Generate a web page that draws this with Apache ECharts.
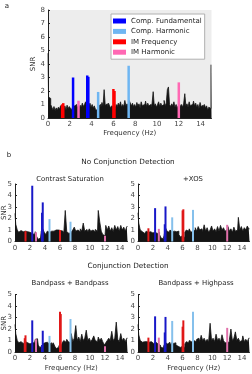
<!DOCTYPE html>
<html>
<head>
<meta charset="utf-8">
<script src="https://cdn.jsdelivr.net/npm/echarts@6/dist/echarts.min.js"></script>
<style>
  html, body { margin: 0; padding: 0; background: #ffffff; }
  #main { width: 252px; height: 374px; }
</style>
</head>
<body>
<div id="main"></div>
<script>
// spectrum of panel a, one value every 0.1 Hz from 0 to 15 Hz
var snrA = [
  4.8, 1.55, 1.45, 1.0, 0.8, 0.6, 0.85, 0.55, 0.75, 0.6,
  0.8, 0.65, 0.9, 1.0, 0.9, 0.7, 0.9, 0.6, 0.95, 0.7,
  0.85, 0.9, 0.6, 0.8, 0.75, 0.9, 1.0, 0.8, 0.9, 0.7,
  0.95, 0.8, 1.1, 0.85, 1.0, 1.2, 1.05, 1.0, 0.9, 1.1,
  0.8, 1.0, 0.75, 0.9, 0.65, 0.55, 0.7, 0.9, 1.0, 0.8,
  1.15, 0.9, 2.1, 0.95, 1.05, 0.8, 1.1, 0.9, 0.75, 0.9,
  0.8, 0.8, 0.6, 1.0, 0.85, 1.1, 0.9, 1.2, 0.8, 1.0,
  0.85, 1.3, 0.9, 1.05, 0.9, 1.3, 1.25, 0.9, 1.1, 0.85,
  1.0, 0.8, 1.15, 0.9, 1.05, 0.75, 1.2, 0.9, 1.0, 0.8,
  1.25, 0.85, 1.1, 0.9, 1.0, 0.8, 1.1, 1.95, 0.9, 1.05,
  0.8, 1.0, 1.2, 0.85, 1.1, 0.9, 1.0, 1.3, 0.9, 1.1,
  2.1, 2.3, 1.0, 0.85, 1.05, 0.9, 1.2, 0.8, 1.0, 0.75,
  0.9, 1.1, 0.85, 1.0, 0.8, 1.1, 1.8, 0.9, 1.05, 0.8,
  1.2, 0.9, 1.0, 0.85, 1.25, 0.9, 1.1, 0.8, 1.0, 0.7,
  1.15, 0.85, 0.95, 0.7, 1.0, 0.75, 0.9, 0.6, 0.8, 0.7,
  3.95
];
var fundA = [[2.3, 3.0], [3.6, 3.15], [3.7, 3.05]];
var harmA = [[4.6, 1.93], [7.4, 3.87]];
var imfA = [[1.3, 1.0], [1.4, 1.1], [6.0, 2.15], [6.1, 2.0]];
var imhA = [[2.8, 1.28], [12.0, 2.64]];

// panels b, one value every 0.2 Hz from 0 to 15 Hz
var snrB1 = [
  2.45, 1.5, 1.0, 0.8, 0.95, 0.85, 0.95, 0.9, 0.85, 0.95,
  0.8, 0.7, 0.75, 0.6, 0.85, 0.4, 0.2, 0.3, 0.9, 1.1,
  0.8, 0.6, 0.9, 0.8, 0.9, 0.85, 0.9, 1.0, 1.05, 1.0,
  0.95, 0.8, 0.9, 0.7, 2.7, 0.85, 0.7, 0.8, 0.9, 1.0,
  1.25, 0.9, 1.0, 0.85, 1.1, 0.9, 1.6, 0.9, 1.05, 0.8,
  1.1, 0.9, 1.0, 0.85, 1.05, 0.9, 2.7, 1.7, 0.9, 0.6,
  0.5, 1.4, 1.0, 1.35, 0.9, 1.2, 0.85, 1.4, 1.0, 1.3,
  0.9, 1.4, 1.0, 1.25, 0.9, 1.3
];
var fundB1 = [[2.3, 4.85], [3.6, 2.5], [3.7, 3.4]];
var harmB1 = [[4.6, 1.95], [7.4, 1.72]];
var imfB1 = [[1.4, 0.9], [6.0, 1.0]];
var imhB1 = [[2.8, 0.8], [12.0, 0.5]];

var snrB2 = [
  2.5, 1.6, 1.0, 0.85, 0.7, 0.8, 0.9, 0.8, 0.85, 0.9,
  0.75, 0.8, 0.85, 0.7, 0.8, 0.6, 0.3, 0.25, 0.5, 1.2,
  0.9, 0.8, 1.0, 0.85, 0.9, 1.0, 0.85, 0.9, 0.6, 0.4,
  0.5, 0.35, 0.8, 1.0, 0.9, 1.1, 0.8, 0.9, 1.0, 1.2,
  0.9, 1.3, 1.0, 1.1, 0.85, 1.45, 0.9, 1.2, 0.8, 1.0,
  1.35, 0.9, 1.1, 0.85, 1.3, 0.9, 1.4, 1.0, 1.2, 0.9,
  1.0, 1.3, 0.9, 1.1, 0.8, 1.25, 0.9, 1.0, 2.1, 1.0,
  1.3, 0.9, 1.2, 1.0, 1.35, 1.1
];
var fundB2 = [[2.3, 2.9], [3.6, 1.5], [3.7, 3.05]];
var harmB2 = [[4.6, 2.1], [7.4, 2.75]];
var imfB2 = [[1.4, 1.15], [6.0, 2.7], [6.1, 2.8]];
var imhB2 = [[2.8, 1.1], [12.0, 1.45]];

var snrB3 = [
  2.4, 1.6, 1.0, 0.8, 0.9, 0.75, 0.85, 0.9, 0.8, 0.85,
  0.7, 0.8, 0.75, 0.8, 1.1, 1.15, 0.6, 0.4, 0.5, 0.7,
  0.8, 0.85, 0.9, 0.7, 0.8, 0.6, 0.8, 0.5, 0.3, 0.4,
  0.6, 0.4, 0.8, 1.0, 0.85, 1.1, 0.9, 0.8, 1.6, 0.9,
  1.2, 2.3, 1.0, 1.3, 0.9, 1.55, 1.0, 1.2, 1.9, 1.0,
  1.2, 0.9, 1.1, 1.4, 1.0, 0.9, 1.3, 1.0, 1.2, 0.9,
  0.6, 0.8, 1.0, 1.2, 1.0, 1.8, 1.0, 1.2, 2.6, 1.1,
  0.9, 1.6, 1.0, 1.2, 0.9, 1.2
];
var fundB3 = [[2.3, 2.75], [3.6, 0.6], [3.7, 1.85]];
var harmB3 = [[4.6, 1.4], [7.4, 2.87]];
var imfB3 = [[1.3, 1.2], [1.4, 1.45], [6.0, 3.5], [6.1, 3.3]];
var imhB3 = [[2.8, 1.1], [12.0, 0.5]];

var snrB4 = [
  2.4, 1.5, 1.0, 0.85, 0.9, 0.8, 0.9, 0.85, 0.8, 0.9,
  0.75, 0.8, 0.85, 0.7, 0.8, 0.6, 0.4, 0.35, 0.6, 0.8,
  0.7, 0.85, 0.6, 0.8, 0.75, 0.8, 0.6, 0.5, 0.4, 0.3,
  0.5, 0.4, 0.7, 0.9, 0.8, 1.0, 0.9, 0.8, 1.0, 0.9,
  1.1, 1.2, 0.9, 1.45, 1.0, 1.2, 0.9, 1.1, 0.9, 2.5,
  1.0, 1.2, 0.9, 1.55, 1.0, 1.2, 0.9, 1.5, 1.0, 0.8,
  0.8, 0.9, 1.1, 2.0, 1.0, 1.2, 1.75, 1.0, 1.2, 0.9,
  1.0, 1.4, 0.9, 1.1, 0.9, 1.2
];
var fundB4 = [[2.3, 3.1], [3.6, 1.7], [3.7, 3.05]];
var harmB4 = [[4.6, 2.7], [7.4, 3.5]];
var imfB4 = [[1.4, 1.25], [6.0, 2.2], [6.1, 2.75]];
var imhB4 = [[2.8, 1.25], [12.0, 2.1]];

var names = ["Comp. Fundamental", "Comp. Harmonic", "IM Frequency", "IM Harmonic"];
var colorsA = ["#0000ff", "#6fb6f2", "#ff0000", "#ff69b4"];
var colorsB = ["#1818c8", "#85c0ec", "#e01818", "#e070aa"];
var font = "DejaVu Sans";

var chart = echarts.init(document.getElementById("main"));

var grids = [
  { left: 48, top: 10, width: 163.5, height: 108 },
  { left: 15, top: 184, width: 112.5, height: 57.5 },
  { left: 138, top: 184, width: 111.5, height: 57.5 },
  { left: 15, top: 294.5, width: 112.5, height: 57.5 },
  { left: 138, top: 294.5, width: 111.5, height: 57.5 }
];
grids[0].show = true;
grids[0].backgroundColor = "#ededed";
grids[0].borderWidth = 0;

var panels = [
  { snr: snrA, step: 0.1, peaks: [fundA, harmA, imfA, imhA], ymax: 8, colors: colorsA, bw: 2.5, snrName: true, freqName: true },
  { snr: snrB1, step: 0.2, peaks: [fundB1, harmB1, imfB1, imhB1], ymax: 5, colors: colorsB, bw: 2, snrName: true, freqName: false },
  { snr: snrB2, step: 0.2, peaks: [fundB2, harmB2, imfB2, imhB2], ymax: 5, colors: colorsB, bw: 2, snrName: false, freqName: false },
  { snr: snrB3, step: 0.2, peaks: [fundB3, harmB3, imfB3, imhB3], ymax: 5, colors: colorsB, bw: 2, snrName: true, freqName: true },
  { snr: snrB4, step: 0.2, peaks: [fundB4, harmB4, imfB4, imhB4], ymax: 5, colors: colorsB, bw: 2, snrName: false, freqName: true }
];

var xAxes = [], yAxes = [], series = [];
panels.forEach(function (p, i) {
  xAxes.push({
    type: "value", gridIndex: i, min: 0, max: 15, interval: 2,
    name: p.freqName ? "Frequency (Hz)" : "",
    nameLocation: "middle", nameGap: i === 0 ? 12 : 13, nameMoveOverlap: false,
    nameTextStyle: { fontSize: 7, color: "#333", fontFamily: font, verticalAlign: "top" },
    axisLine: { lineStyle: { color: "#222", width: 1 } },
    axisTick: { show: true, inside: true, length: 2, lineStyle: { color: "#222" } },
    axisLabel: { fontSize: 7, color: "#444", margin: 3, fontFamily: font, showMaxLabel: false },
    splitLine: { show: false }
  });
  yAxes.push({
    type: "value", gridIndex: i, min: 0, max: p.ymax, interval: 1,
    name: p.snrName ? "SNR" : "",
    nameLocation: "middle", nameGap: i === 0 ? 11.5 : 7, nameMoveOverlap: false,
    nameTextStyle: { fontSize: 7, color: "#333", fontFamily: font },
    axisLine: { show: true, lineStyle: { color: "#222", width: 1 } },
    axisTick: { show: true, inside: true, length: 2, lineStyle: { color: "#222" } },
    axisLabel: { fontSize: 7, color: "#444", margin: 3, fontFamily: font },
    splitLine: { show: false }
  });
  series.push({
    type: "line", xAxisIndex: i, yAxisIndex: i, step: "middle", symbol: "none",
    data: p.snr.map(function (v, k) { return [+(k * p.step).toFixed(1), v]; }),
    lineStyle: { color: "#141414", width: 0.8 },
    areaStyle: { color: "#141414", opacity: 1 },
    silent: true, z: 2
  });
  p.peaks.forEach(function (pk, j) {
    series.push({
      name: names[j], type: "bar", xAxisIndex: i, yAxisIndex: i,
      data: pk, barWidth: p.bw, barGap: "-100%",
      itemStyle: { color: p.colors[j] }, z: 3, silent: true
    });
  });
});

function label(x, y, text, size) {
  return {
    type: "text", x: x, y: y,
    style: { text: text, font: size + "px DejaVu Sans", fill: "#222", align: "center", verticalAlign: "middle" }
  };
}

var option = {
  animation: false,
  grid: grids,
  xAxis: xAxes,
  yAxis: yAxes,
  legend: {
    data: names.map(function (n) { return { name: n, icon: "rect" }; }),
    orient: "vertical", left: 111, top: 14,
    itemWidth: 13, itemHeight: 5, itemGap: 0.4,
    padding: [2, 3, 2, 2],
    backgroundColor: "#ffffff", borderColor: "#b0b0b0", borderWidth: 1,
    textStyle: { fontSize: 7, color: "#222", fontFamily: font, lineHeight: 10 },
    selectedMode: false
  },
  graphic: [
    label(7, 6, "a", 7),
    label(9, 155, "b", 7),
    label(128, 162, "No Conjunction Detection", 7.3),
    label(70, 179, "Contrast Saturation", 6.9),
    label(193, 179, "+XOS", 6.9),
    label(128, 266, "Conjunction Detection", 7.3),
    label(70, 283, "Bandpass + Bandpass", 6.9),
    label(196, 283, "Bandpass + Highpass", 6.9)
  ],
  series: series
};

chart.setOption(option);
</script>
</body>
</html>
